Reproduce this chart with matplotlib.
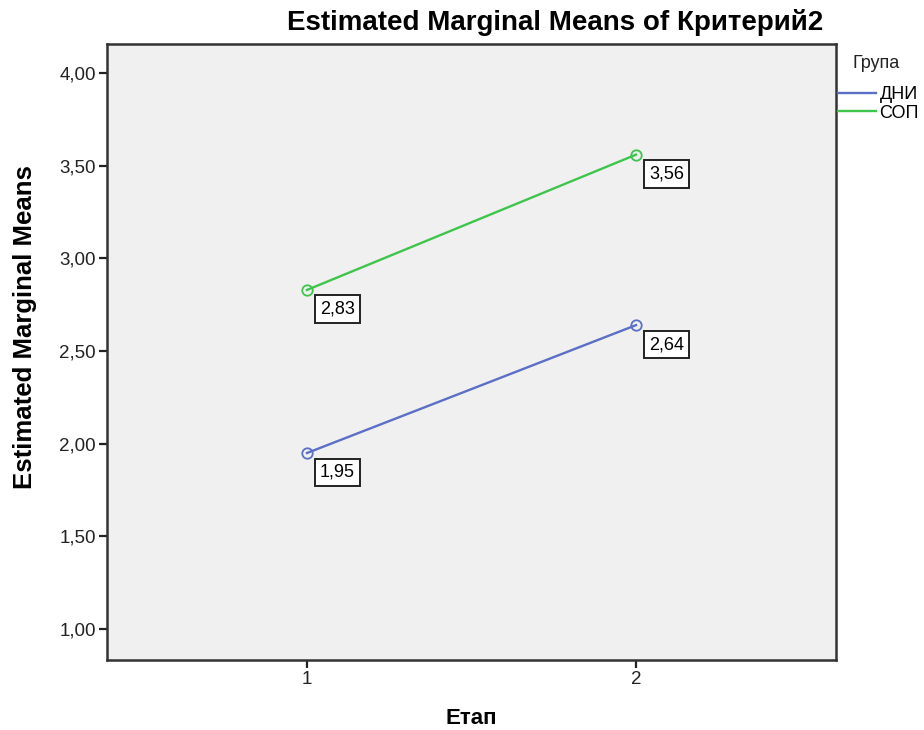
import numpy as np
import matplotlib.pyplot as plt

plt.rcParams['font.family'] = ['Liberation Sans', 'DejaVu Sans']

# data
etap = [1, 2]
groups = ['ДНИ', 'СОП']
means_dni = [1.95, 2.64]
means_sop = [2.83, 3.56]
colors = ['#5b6fc6', '#3fc44c']
yticks = [1.0, 1.5, 2.0, 2.5, 3.0, 3.5, 4.0]

fig = plt.figure(figsize=(9.24, 7.3), dpi=100)
ax = fig.add_axes([0.1158, 0.0959, 0.789, 0.8438])
ax.set_facecolor('#f0f0f0')

for name, vals, c in zip(groups, [means_dni, means_sop], colors):
    ax.plot(etap, vals, color=c, lw=1.7, label=name)
    ax.plot(etap, vals, 'o', mfc='none', mec=c, ms=7.5, mew=1.3)
    for x, v in zip(etap, vals):
        ax.annotate(f'{v:.2f}'.replace('.', ','), (x, v), xytext=(22, -14),
                    textcoords='offset points', fontsize=13, ha='center', va='center',
                    bbox=dict(boxstyle='square,pad=0.3', fc='white', ec='#222222', lw=1.4))

ax.set_xlim(0.392, 2.608)
ax.set_ylim(0.833, 4.157)
ax.set_xticks(etap)
ax.set_xticklabels([str(e) for e in etap])
ax.set_yticks(yticks)
ax.set_yticklabels([f'{t:.2f}'.replace('.', ',') for t in yticks])
ax.tick_params(labelsize=13.5, colors='#222222', width=1.6, length=6, pad=2)
for s in ax.spines.values():
    s.set_linewidth(1.8)
    s.set_color('#333333')

fig.text(0.027, 0.552, 'Estimated Marginal Means', rotation=90, ha='center', va='center',
         fontsize=18.5, fontweight='bold')
fig.text(0.51, 0.0164, 'Етап', ha='center', va='center', fontsize=16, fontweight='bold')
fig.text(0.601, 0.9685, 'Estimated Marginal Means of Критерий2', ha='center', va='center',
         fontsize=20, fontweight='bold')

# legend
fig.text(852 / 924, 1 - 64 / 730, 'Група', ha='left', va='center', fontsize=13, color='#222222')
ax.legend(loc='upper left', bbox_to_anchor=(838 / 924, 1 - 86 / 730),
          bbox_transform=fig.transFigure, frameon=False, fontsize=13,
          handlelength=2.1, handletextpad=0.2, labelspacing=0.1,
          borderaxespad=0, borderpad=0)

fig.savefig('out.png', dpi=100)
